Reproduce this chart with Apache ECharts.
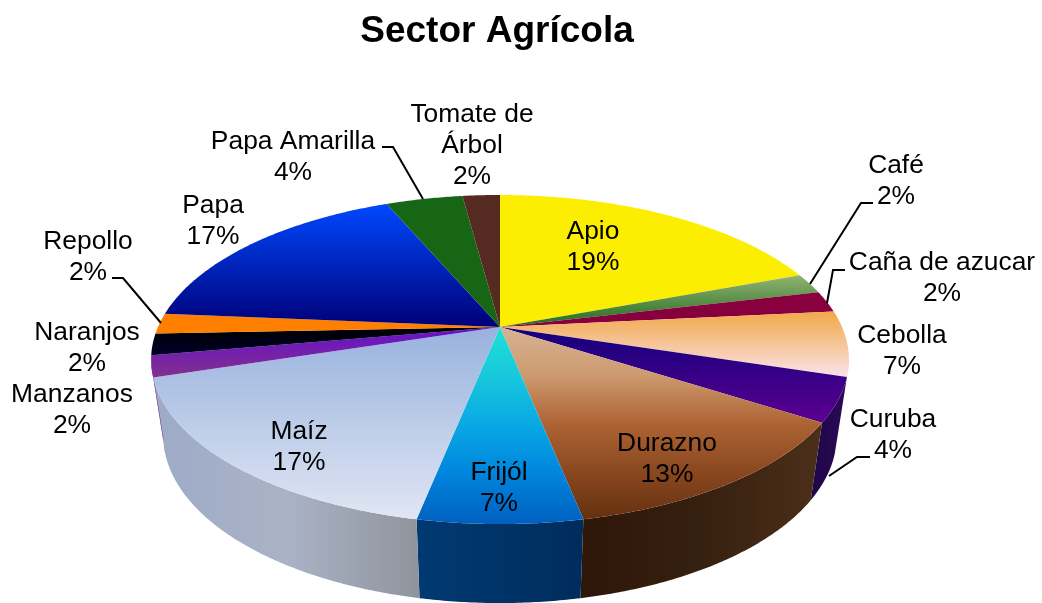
<!DOCTYPE html>
<html>
<head>
<meta charset="utf-8">
<title>Sector Agrícola</title>
<style>
  html, body { margin: 0; padding: 0; background: #fff; }
  #chart { width: 1042px; height: 603px; }
</style>
<script src="https://cdn.jsdelivr.net/npm/echarts@6/dist/echarts.min.js"></script>
</head>
<body>
<div id="chart"></div>
<script>
const categories = ['Apio', 'Café', 'Caña de azucar', 'Cebolla', 'Curuba', 'Durazno', 'Frijól', 'Maíz', 'Manzanos', 'Naranjos', 'Repollo', 'Papa', 'Papa Amarilla', 'Tomate de Árbol']
// slice sizes as measured off the rim, printed percents as written in the labels
const shares = [19.3, 2.0, 2.1, 6.4, 4.3, 12.75, 6.3, 17.0, 2.1, 2.1, 2.0, 17.25, 4.3, 2.1]
const percents = [19, 2, 2, 7, 4, 13, 7, 17, 2, 2, 2, 17, 4, 2]

// top face colours, top to bottom of each slice
const topColors = [
  ['#fbee00', '#fbee00'],
  ['#93b474', '#1f6a1c'],
  ['#8a0040', '#85003c'],
  ['#f2a848', '#fae2ea'],
  ['#12007c', '#5c0090'],
  ['#d8b294', '#cc9a70', '#ae6434', '#8a4820', '#653010'],
  ['#1fe0d4', '#18c8dc', '#08a8e4', '#0084dc', '#0060c0'],
  ['#98b2de', '#e0e6f3'],
  ['#6410cc', '#82308c'],
  ['#000000', '#00002a'],
  ['#ff8000', '#ff8000'],
  ['#0048ff', '#000078'],
  ['#166615', '#166615'],
  ['#552a20', '#552a20']
]
// side wall colours, left to right
const wallColors = {
  3: ['#f4dfe0', '#f4dfe0'],
  4: ['#1e0648', '#2c0a58'],
  5: ['#2e1608', '#36200f', '#4c2f1a'],
  6: ['#003a72', '#002c5c'],
  7: ['#9dabc8', '#aab3c6', '#8f949c'],
  8: ['#7a2a90', '#7a2a90']
}
// label centre in pixels, split text and leader line, per slice
const labelLines = [['Apio'], ['Café'], ['Caña de azucar'], ['Cebolla'], ['Curuba'], ['Durazno'], ['Frijól'], ['Maíz'], ['Manzanos'], ['Naranjos'], ['Repollo'], ['Papa'], ['Papa Amarilla'], ['Tomate de', 'Árbol']]
const labelPos = [[593, 247.5], [896, 181], [942, 278.5], [902, 351], [893, 435], [667, 459], [499, 488], [299, 447], [72, 410], [87, 348], [88, 257.5], [213, 221], [293, 157.5], [472, 145.5]]
const leaders = {
  1: [[873, 203], [861, 203], [810, 284]],
  2: [[845, 270], [833, 270], [827, 303]],
  4: [[870, 457], [857, 457], [829, 476]],
  10: [[112, 278], [123, 278], [161, 323]],
  12: [[382, 147], [393, 147], [423, 199]]
}

// perspective ellipses of the top and bottom rim
const topRim = { cx: 500, cy: 327, a: 158.1, b: 342, k: 0.1976 }
const botRim = { cx: 500, cy: 403, a: 160.5, b: 330, k: 0.1976 }
const wallFrom = 100
const wallTo = 258
// the Maíz wall leans over the thin wall next to it
const wallLean = { 7: 5 }

const total = shares.reduce((s, v) => s + v, 0)
const starts = []
shares.reduce((acc, v, i) => {
  starts[i] = acc / total * 360
  return acc + v
}, 0)

function rimPoint (rim, deg) {
  let t = deg * Math.PI / 180
  let u = Math.sin(t)
  let v = Math.cos(t)
  let d = 1 + rim.k * v
  return [rim.cx + rim.b * u / d, rim.cy - rim.a * v / d]
}

function arc (rim, from, to) {
  let pts = []
  let n = Math.max(2, Math.ceil(Math.abs(to - from) * 2))
  for (let i = 0; i <= n; i++) {
    pts.push(rimPoint(rim, from + (to - from) * i / n))
  }
  return pts
}

function gradient (colors, horizontal) {
  let stops = colors.map((c, i) => ({ offset: i / (colors.length - 1), color: c }))
  return horizontal
    ? new echarts.graphic.LinearGradient(0, 0, 1, 0, stops)
    : new echarts.graphic.LinearGradient(0, 0, 0, 1, stops)
}

function renderWall (params, api) {
  let i = api.value(0)
  let from = Math.max(api.value(1), wallFrom)
  let to = Math.min(api.value(1) + api.value(2) / total * 360, wallTo)
  if (to <= from || !wallColors[i]) return null
  let points = arc(topRim, from, to).concat(arc(botRim, to + (wallLean[i] || 0), from))
  return {
    type: 'polygon',
    shape: { points: points },
    style: { fill: gradient(wallColors[i], true) }
  }
}

function renderTop (params, api) {
  let i = api.value(0)
  let from = api.value(1)
  let to = from + api.value(2) / total * 360
  let points = [[topRim.cx, topRim.cy]].concat(arc(topRim, from, to))
  return {
    type: 'polygon',
    shape: { points: points },
    style: { fill: gradient(topColors[i], false) }
  }
}

function renderLabel (params, api) {
  let i = api.value(0)
  let children = [{
    type: 'text',
    style: {
      text: labelLines[i].concat(percents[i] + '%').join('\n'),
      x: labelPos[i][0],
      y: labelPos[i][1],
      textAlign: 'center',
      textVerticalAlign: 'middle',
      fontFamily: '"Liberation Sans", Arial, sans-serif',
      fontSize: 26.4,
      lineHeight: 31,
      fill: '#000'
    }
  }]
  if (leaders[i]) {
    children.push({
      type: 'polyline',
      shape: { points: leaders[i] },
      style: { stroke: '#000', lineWidth: 2, fill: 'none' }
    })
  }
  return { type: 'group', children: children }
}

const rows = categories.map((name, i) => [i, starts[i], shares[i], name])

const chart = echarts.init(document.getElementById('chart'), null, { renderer: 'canvas' })
chart.setOption({
  backgroundColor: '#fff',
  animation: false,
  title: {
    text: 'Sector Agrícola',
    left: 492,
    top: 8,
    textAlign: 'center',
    textStyle: {
      fontFamily: '"Liberation Sans", Arial, sans-serif',
      fontSize: 37,
      fontWeight: 'bold',
      color: '#000'
    }
  },
  series: [
    { type: 'custom', name: 'walls', coordinateSystem: 'none', z: 1, silent: true, data: rows, renderItem: renderWall },
    { type: 'custom', name: 'tops', coordinateSystem: 'none', z: 2, silent: true, data: rows, renderItem: renderTop },
    { type: 'custom', name: 'labels', coordinateSystem: 'none', z: 3, silent: true, data: rows, renderItem: renderLabel }
  ]
})
</script>
</body>
</html>
